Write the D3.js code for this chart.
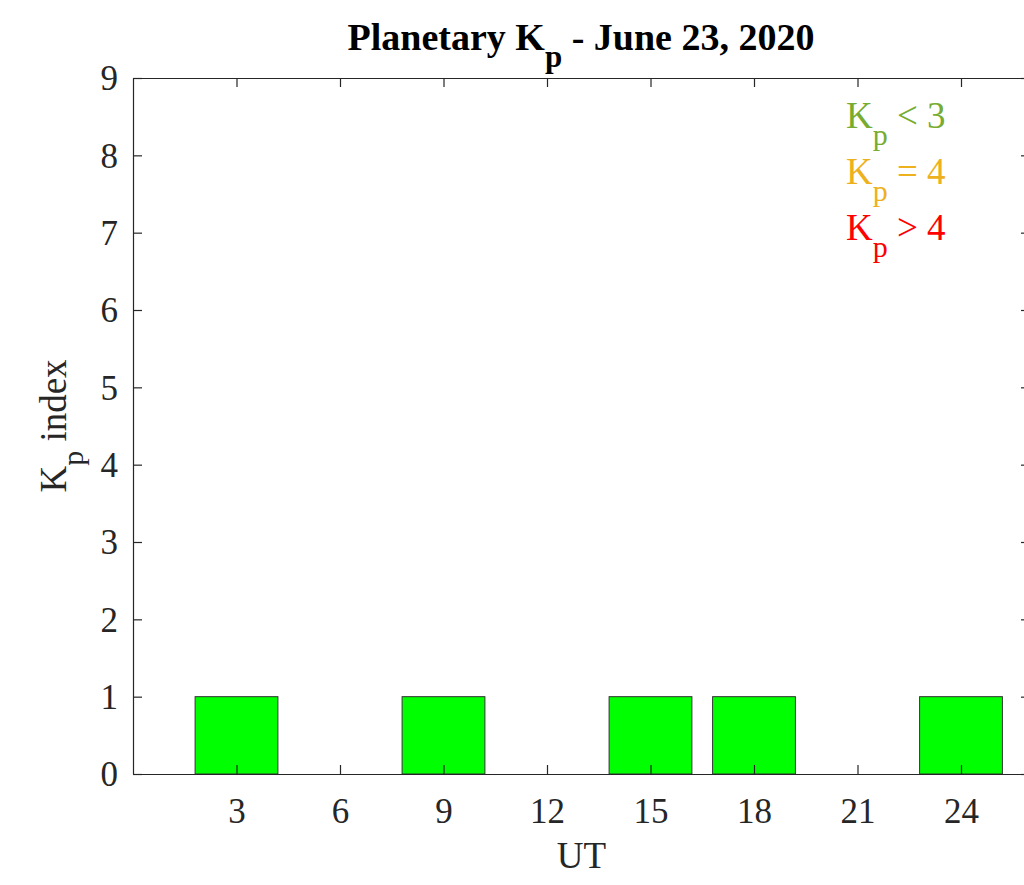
<!DOCTYPE html>
<html><head><meta charset="utf-8">
<script src="https://cdn.jsdelivr.net/npm/d3@7"></script>
<style>body{margin:0;background:#fff}svg{display:block}text{font-family:"Liberation Serif","Times New Roman",serif}</style>
</head><body>
<script>
const hours = [3, 6, 9, 12, 15, 18, 21, 24];
const kpValues = [1, 0, 1, 0, 1, 1, 0, 1];
const xTicks = [3, 6, 9, 12, 15, 18, 21, 24];
const yTicks = [0, 1, 2, 3, 4, 5, 6, 7, 8, 9];
const legendItems = [{op: "< 3", color: "#77ac30"}, {op: "= 4", color: "#edb120"}, {op: "> 4", color: "#ff0000"}];

const W = 1024, H = 885;
const svg = d3.select("body").append("svg").attr("width", W).attr("height", H);
const x = d3.scaleLinear().domain([0, 26]).range([133, 1030]);
const y = d3.scaleLinear().domain([0, 9]).range([774, 78]);
const axisColor = "#262626";
const barW = x(2.4) - x(0);

svg.selectAll("rect.bar").data(hours.map((h, i) => ({h, v: kpValues[i]})).filter(d => d.v > 0))
  .enter().append("rect").attr("class", "bar")
  .attr("x", d => x(d.h) - barW / 2).attr("y", d => y(d.v))
  .attr("width", barW).attr("height", d => y(0) - y(d.v))
  .attr("fill", "#00ff00").attr("stroke", "#333").attr("stroke-width", 1);

function styleAxis(g) {
  g.selectAll("path").attr("stroke", axisColor).attr("stroke-width", 1.2);
  g.selectAll("line").attr("stroke", axisColor).attr("stroke-width", 1.2);
  g.selectAll("text").attr("fill", axisColor).style("font-size", "35px").style("font-family", "'Liberation Serif', serif");
}
const gx = svg.append("g").attr("transform", `translate(0,${y(0)})`)
  .call(d3.axisBottom(x).tickValues(xTicks).tickSizeInner(-9).tickSizeOuter(0).tickPadding(22));
styleAxis(gx);
gx.selectAll(".tick text").attr("dy", null).attr("y", 49);
const gxt = svg.append("g").attr("transform", `translate(0,${y(9)})`)
  .call(d3.axisTop(x).tickValues(xTicks).tickSizeInner(-9).tickSizeOuter(0).tickFormat(""));
styleAxis(gxt);
const gy = svg.append("g").attr("transform", `translate(${x(0)},0)`)
  .call(d3.axisLeft(y).tickValues(yTicks).tickSizeInner(-9).tickSizeOuter(0).tickPadding(15));
styleAxis(gy);
gy.selectAll(".tick text").attr("dy", "0.34em");
const gyr = svg.append("g").attr("transform", `translate(${x(26)},0)`)
  .call(d3.axisRight(y).tickValues(yTicks).tickSizeInner(-9).tickSizeOuter(0).tickFormat(""));
styleAxis(gyr);

// Title
const title = svg.append("text").attr("x", 581).attr("y", 50).attr("text-anchor", "middle")
  .style("font-size", "38px").style("font-weight", "bold").attr("fill", "#000");
title.append("tspan").text("Planetary K");
title.append("tspan").attr("dy", 17).style("font-size", "31px").text("p");
title.append("tspan").attr("dy", -17).text(" - June 23, 2020");

// X label
svg.append("text").attr("x", x(13)).attr("y", 868).attr("text-anchor", "middle")
  .style("font-size", "37px").attr("fill", axisColor).text("UT");

// Y label
const yl = svg.append("text").attr("transform", `translate(66,426) rotate(-90)`)
  .attr("text-anchor", "middle").style("font-size", "37px").attr("fill", axisColor);
yl.append("tspan").text("K");
yl.append("tspan").attr("dy", 17).style("font-size", "30px").text("p");
yl.append("tspan").attr("dy", -17).text(" index");

// Legend
legendItems.forEach((d, i) => {
  const t = svg.append("text").attr("x", 846).attr("y", 128 + i * 56)
    .style("font-size", "37px").attr("fill", d.color);
  t.append("tspan").text("K");
  t.append("tspan").attr("dy", 17).style("font-size", "30px").text("p");
  t.append("tspan").attr("dy", -17).text(" " + d.op);
});
</script>
</body></html>
